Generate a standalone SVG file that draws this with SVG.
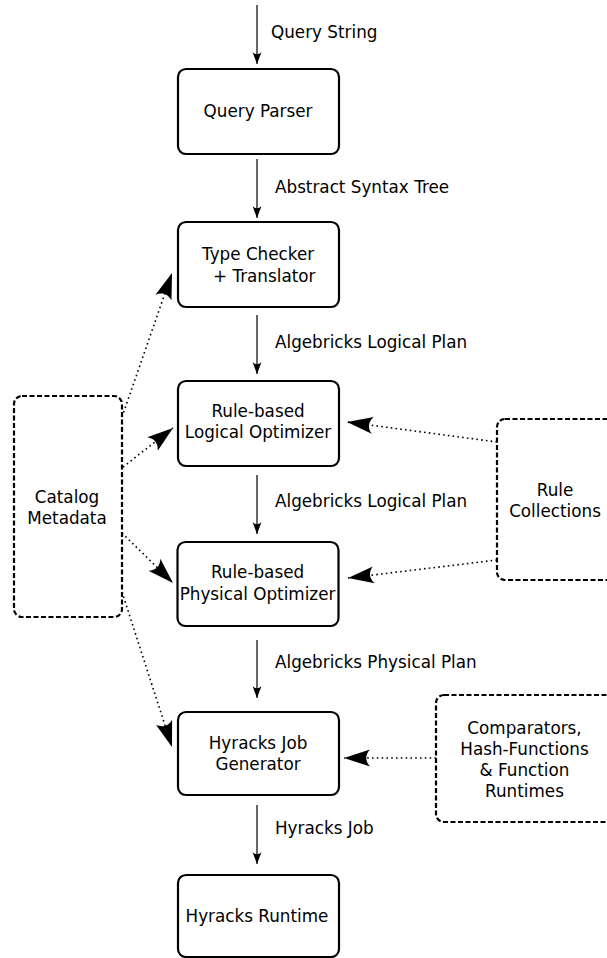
<svg xmlns="http://www.w3.org/2000/svg" width="607" height="958" viewBox="0 0 607 958">
<style>
text{font-family:"DejaVu Sans","Liberation Sans",sans-serif;font-size:16.8px;fill:#000}
.c{text-anchor:middle}
.box{fill:#fff;stroke:#000;stroke-width:2.2}
.dbox{fill:#fff;stroke:#000;stroke-width:2.2;stroke-dasharray:5,2.5}
.flow{stroke:#000;stroke-width:1.2;fill:none;marker-end:url(#sm)}
.dot{stroke:#000;stroke-width:1.6;fill:none;stroke-dasharray:1.6,3.2;marker-end:url(#big)}
</style>
<defs>
<marker id="sm" markerUnits="userSpaceOnUse" orient="auto" refX="0" refY="0" markerWidth="14" markerHeight="10" overflow="visible"><path d="M0,0 L-12,-4.5 C-9,-1.5 -9,1.5 -12,4.5 Z" fill="#000"/></marker>
<marker id="big" markerUnits="userSpaceOnUse" orient="auto" refX="0" refY="0" markerWidth="30" markerHeight="20" overflow="visible"><path d="M0,0 L-26,-8.5 C-21,-3 -21,3 -26,8.5 Z" fill="#000"/></marker>
</defs>
<g id="connectors">
<line class="flow" x1="257" y1="5" x2="257" y2="64"/>
<line class="flow" x1="257" y1="159" x2="257" y2="218"/>
<line class="flow" x1="257" y1="315" x2="257" y2="374"/>
<line class="flow" x1="257" y1="475" x2="257" y2="534"/>
<line class="flow" x1="257" y1="640" x2="257" y2="698"/>
<line class="flow" x1="257" y1="805" x2="257" y2="864"/>
<line class="dot" x1="122" y1="417" x2="172" y2="273"/>
<line class="dot" x1="123" y1="467" x2="173" y2="428"/>
<line class="dot" x1="122" y1="533" x2="173" y2="583"/>
<line class="dot" x1="122" y1="592" x2="172" y2="747"/>
<line class="dot" x1="497" y1="442" x2="347" y2="422"/>
<line class="dot" x1="497" y1="560" x2="348" y2="578"/>
<line class="dot" x1="436" y1="758" x2="344" y2="758"/>
<text x="271" y="38">Query String</text>
<text x="275" y="193">Abstract Syntax Tree</text>
<text x="275" y="348">Algebricks Logical Plan</text>
<text x="275" y="507">Algebricks Logical Plan</text>
<text x="275" y="668">Algebricks Physical Plan</text>
<text x="275" y="834">Hyracks Job</text>
</g>
<g id="query-parser"><rect class="box" x="178" y="69" width="161" height="85" rx="8"/><text class="c" x="258" y="117">Query Parser</text></g>
<g id="type-checker"><rect class="box" x="178" y="222" width="161" height="85" rx="8"/><text x="202" y="260">Type Checker</text><text x="213" y="282">+ Translator</text></g>
<g id="logical-optimizer"><rect class="box" x="178" y="381" width="161" height="85" rx="8"/><text class="c" x="258" y="417">Rule-based</text><text class="c" x="258" y="438">Logical Optimizer</text></g>
<g id="physical-optimizer"><rect class="box" x="177.5" y="542" width="161" height="84" rx="8"/><text class="c" x="257.5" y="578">Rule-based</text><text class="c" x="257.5" y="600">Physical Optimizer</text></g>
<g id="job-generator"><rect class="box" x="178" y="712" width="161" height="83" rx="8"/><text class="c" x="258" y="749">Hyracks Job</text><text class="c" x="258" y="770">Generator</text></g>
<g id="runtime"><rect class="box" x="178" y="875" width="161" height="82" rx="8"/><text class="c" x="257" y="922">Hyracks Runtime</text></g>
<g id="catalog"><rect class="dbox" x="14" y="396" width="108" height="221" rx="8"/><text class="c" x="67" y="503">Catalog</text><text class="c" x="67" y="524">Metadata</text></g>
<g id="rules"><rect class="dbox" x="497" y="419" width="130" height="161" rx="8"/><text class="c" x="555" y="496">Rule</text><text class="c" x="555" y="517">Collections</text></g>
<g id="comparators"><rect class="dbox" x="436" y="695" width="190" height="127" rx="8"/><text class="c" x="524.5" y="734">Comparators,</text><text class="c" x="524.5" y="755">Hash-Functions</text><text class="c" x="524.5" y="776">&amp; Function</text><text class="c" x="524.5" y="797">Runtimes</text></g>
</svg>
